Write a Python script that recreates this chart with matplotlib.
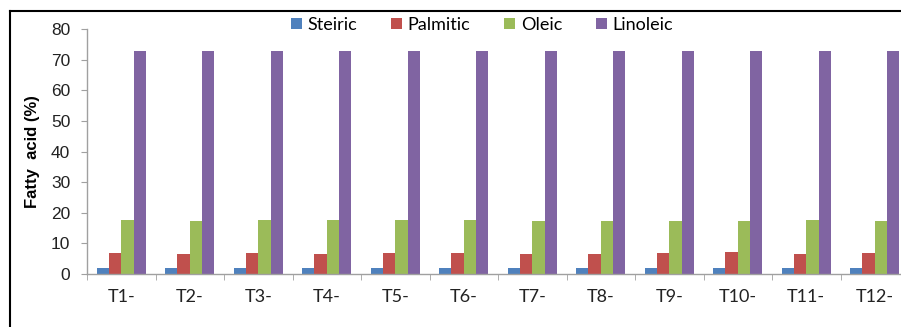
import matplotlib
matplotlib.use("Agg")
import matplotlib.pyplot as plt
import numpy as np
from matplotlib.lines import Line2D

categories = ["T1-", "T2-", "T3-", "T4-", "T5-", "T6-", "T7-", "T8-", "T9-", "T10-", "T11-", "T12-"]
series_names = ["Steiric", "Palmitic", "Oleic", "Linoleic"]
steiric = [2.0, 2.0, 2.0, 2.0, 2.0, 2.0, 2.0, 2.0, 2.0, 2.0, 2.0, 2.0]
palmitic = [7.0, 6.5, 7.0, 6.5, 7.0, 7.0, 6.5, 6.5, 7.0, 7.2, 6.6, 7.0]
oleic = [17.8, 17.3, 17.8, 17.7, 17.8, 17.5, 17.3, 17.3, 17.3, 17.3, 17.5, 17.3]
linoleic = [73.0, 73.0, 73.0, 72.8, 72.8, 73.0, 73.0, 73.0, 73.0, 73.0, 73.0, 73.0]
yticks = [0, 10, 20, 30, 40, 50, 60, 70, 80]

colors = ["#4F81BD", "#C0504D", "#9BBB59", "#8064A2"]

fig = plt.figure(figsize=(9.01, 3.27), dpi=100)
ax = fig.add_axes([87/901, 1-274/327, 822/901, (274-29.3)/327])

x = np.arange(len(categories))
w = 0.18
for i, (vals, name, c) in enumerate(zip([steiric, palmitic, oleic, linoleic], series_names, colors)):
    ax.bar(x + (i - 1.5) * w, vals, width=w, color=c, label=name, zorder=2)

ax.set_xlim(-0.5, len(categories) - 0.5)
ax.set_ylim(0, 80)
ax.set_yticks(yticks)
ax.set_yticklabels([str(v) for v in yticks], fontfamily="Liberation Sans", fontsize=12.5, color="#222222")
ax.set_xticks(x)
ax.set_xticklabels(categories, fontfamily="Lato", fontsize=13, color="#222222")
ax.set_xticks(np.arange(-0.5, len(categories), 1), minor=True)
ax.tick_params(axis="x", which="major", length=0, pad=11)
ax.tick_params(axis="x", which="minor", length=4, color="#A0A0A0", direction="out")
ax.tick_params(axis="y", length=4, color="#A0A0A0", direction="out", pad=8)

for s in ["top", "right"]:
    ax.spines[s].set_visible(False)
for s in ["left", "bottom"]:
    ax.spines[s].set_color("#A0A0A0")
    ax.spines[s].set_linewidth(1.0)

ax.set_ylabel("Fatty  acid (%)", fontfamily="Liberation Sans", fontweight="bold", fontsize=12, labelpad=8)

leg = fig.legend(loc="center", bbox_to_anchor=(482/901, 1-25/327), ncol=4, frameon=False,
                 handlelength=0.6, handleheight=0.6, handletextpad=0.3, columnspacing=1.9,
                 prop={"family": "Lato", "size": 13})

# figure frame (left and top lines)
fig.add_artist(Line2D([10/901, 10/901], [0, 1-11/327], transform=fig.transFigure, color="black", lw=1.5))
fig.add_artist(Line2D([10/901, 1], [1-11/327, 1-11/327], transform=fig.transFigure, color="black", lw=1.5))

fig.savefig("out.png", dpi=100)
